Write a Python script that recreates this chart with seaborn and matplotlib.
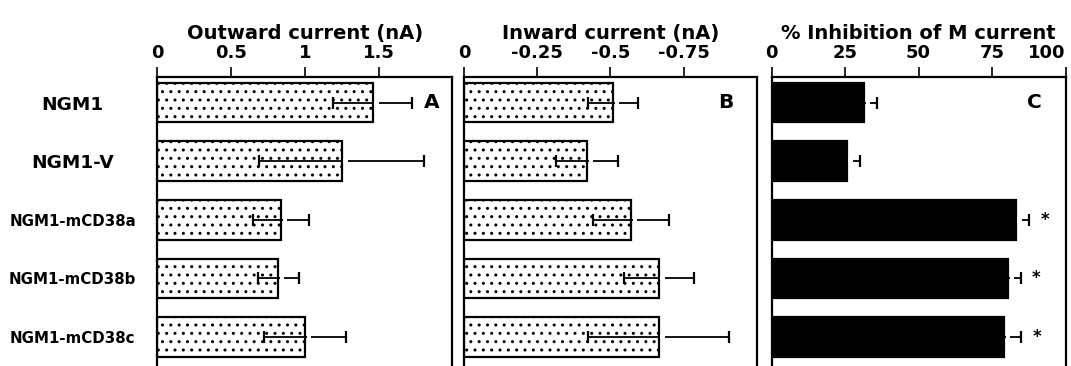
import numpy as np
import pandas as pd
import matplotlib
matplotlib.use("Agg")
import matplotlib.pyplot as plt
import seaborn as sns
from matplotlib.transforms import blended_transform_factory

# Cell lines (rows)
cells = ["NGM1", "NGM1-V", "NGM1-mCD38a", "NGM1-mCD38b", "NGM1-mCD38c"]

# A: outward current (nA), mean and SEM
outward_mean = [1.46, 1.25, 0.84, 0.82, 1.00]
outward_sem = [0.27, 0.56, 0.19, 0.14, 0.28]

# B: inward current (nA), mean and SEM
inward_mean = [-0.51, -0.42, -0.57, -0.665, -0.665]
inward_sem = [0.085, 0.105, 0.13, 0.12, 0.24]

# C: % inhibition of M current, mean and SEM
inhibition_mean = [31.5, 25.5, 83.0, 80.5, 79.0]
inhibition_sem = [4.5, 4.7, 4.7, 4.3, 6.0]
significant = [False, False, True, True, True]

outward_ticks = [0, 0.5, 1, 1.5]
outward_ticklabels = ["0", "0.5", "1", "1.5"]
inward_ticks = [0, -0.25, -0.5, -0.75]
inward_ticklabels = ["0", "-0.25", "-0.5", "-0.75"]
inhibition_ticks = [0, 25, 50, 75, 100]
inhibition_ticklabels = ["0", "25", "50", "75", "100"]

sns.set_style("white")
plt.rcParams["font.family"] = ["DejaVu Sans"]
plt.rcParams["font.weight"] = "bold"
plt.rcParams["text.color"] = "black"
plt.rcParams["axes.labelcolor"] = "black"
plt.rcParams["xtick.color"] = "black"
plt.rcParams["ytick.color"] = "black"
plt.rcParams["hatch.linewidth"] = 1.0

W, H = 1071, 366
fig = plt.figure(figsize=(W / 100, H / 100), dpi=100)

top_px, bottom_px = 77, 384


def make_axes(left_px, right_px):
    return fig.add_axes([left_px / W, 1 - bottom_px / H,
                         (right_px - left_px) / W, (bottom_px - top_px) / H])


ax_a = make_axes(157.3, 452.3)
ax_b = make_axes(464.0, 756.7)
ax_c = make_axes(771.7, 1065.5)

panels = [
    (ax_a, outward_mean, outward_sem, (0, 2), outward_ticks, outward_ticklabels,
     "Outward current (nA)", "A", 0.93, "white", True),
    (ax_b, inward_mean, inward_sem, (0, -1), inward_ticks, inward_ticklabels,
     "Inward current (nA)", "B", 0.893, "white", True),
    (ax_c, inhibition_mean, inhibition_sem, (0, 100), inhibition_ticks, inhibition_ticklabels,
     "% Inhibition of M current", "C", 0.895, "black", False),
]

ypos = np.arange(len(cells))

for ax, mean, sem, xlim, ticks, ticklabels, title, letter, letter_x, fill, dotted in panels:
    df = pd.DataFrame({"cell": cells, "value": mean})
    sns.barplot(data=df, x="value", y="cell", orient="h", ax=ax, color=fill,
                saturation=1, edgecolor="black", linewidth=1.6, width=0.68,
                errorbar=None)
    if dotted:
        for p in ax.patches:
            p.set_hatch("..")
            p.set_facecolor("white")
    else:
        for p in ax.patches:
            p.set_facecolor("black")

    ax.errorbar(mean, ypos, xerr=sem, fmt="none", ecolor="black",
                elinewidth=1.3, capsize=4.5, capthick=1.6, zorder=4)

    ax.set_xlim(*xlim)
    ax.set_ylim(4.8, -0.435)

    # small white break where the error line leaves the bar
    ax_w_px = ax.get_position().width * W
    ppu = ax_w_px / abs(xlim[1] - xlim[0])
    sign = np.sign(xlim[1] - xlim[0])
    for m, y in zip(mean, ypos):
        x0 = m + sign * 1.8 / ppu
        x1 = m + sign * 6.0 / ppu
        ax.plot([x0, x1], [y, y], color="white", lw=3, solid_capstyle="butt", zorder=5)

    ax.xaxis.tick_top()
    ax.xaxis.set_label_position("top")
    ax.set_xticks(ticks)
    ax.set_xticklabels(ticklabels, fontsize=13, fontweight="bold", color="black")
    ax.tick_params(axis="x", direction="out", length=7.2, width=1.2, pad=3.5,
                   top=True, bottom=False, color="black")
    ax.set_xlabel(title, fontsize=14, fontweight="bold", labelpad=4, color="black")
    ax.set_ylabel("")
    for s in ax.spines.values():
        s.set_visible(True)
        s.set_linewidth(1.6)
        s.set_color("black")

    tr = blended_transform_factory(ax.transAxes, ax.transData)
    ax.text(letter_x, 0, letter, transform=tr, ha="center", va="center",
            fontsize=14.5, fontweight="bold", color="black")

    if ax is ax_a:
        ax.tick_params(axis="y", length=0, pad=61)
        for i, lab in enumerate(ax.get_yticklabels()):
            lab.set_ha("center")
            lab.set_fontweight("bold")
            lab.set_color("black")
            lab.set_fontsize(13.3 if i < 2 else 10.8)
    else:
        ax.tick_params(axis="y", length=0)
        ax.set_yticklabels([])

    if ax is ax_c:
        # last label sits inside the panel edge
        ax.get_xticklabels()[-1].set_ha("right")
        for m, s, y, sig in zip(mean, sem, ypos, significant):
            if sig:
                ax.text(m + s + 5.2, y, "*", ha="center", va="center",
                        fontsize=12, fontweight="bold", color="black")

fig.savefig("out.png", dpi=100)
